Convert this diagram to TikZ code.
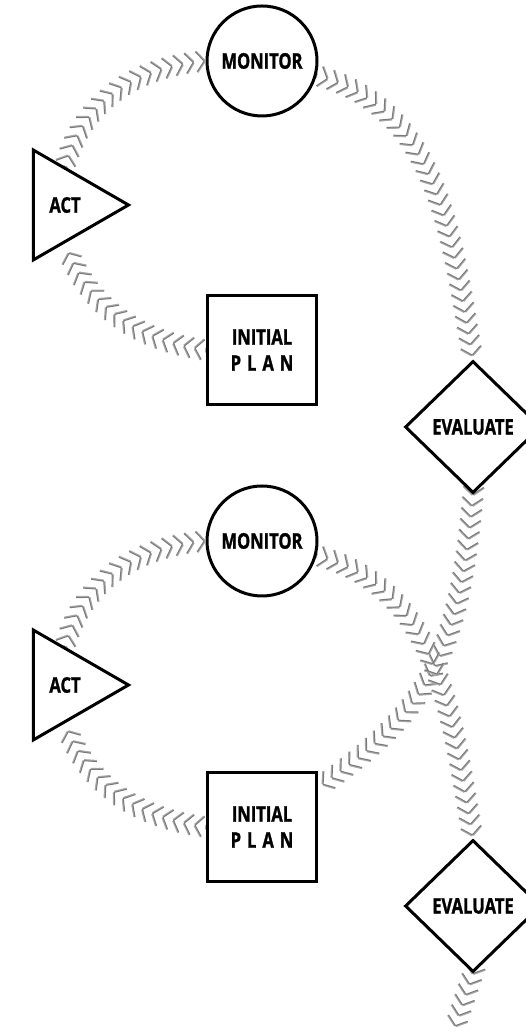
\documentclass[tikz,border=0pt]{standalone}
\usepackage{fontspec}
\newfontfamily\lblfont[FakeStretch=0.77,BoldFeatures={FakeBold=1.2}]{Open Sans}
\usetikzlibrary{shapes.geometric,decorations.markings,backgrounds}
\definecolor{chevgray}{HTML}{A8A8A8}
\definecolor{chevdark}{HTML}{7A7A7A}
\begin{document}
\begin{tikzpicture}[x=1pt,y=1pt,
  lbl/.style={font=\lblfont\bfseries\fontsize{21.5}{26}\selectfont, align=center,
    inner sep=0pt, fill=white, draw=black, line width=3pt},
  monitorbox/.style={lbl, circle, minimum size=110pt},
  actbox/.style={lbl, regular polygon, regular polygon sides=3,
    shape border rotate=-90, minimum size=127pt},
  planbox/.style={lbl, rectangle, minimum size=109pt},
  evalbox/.style={lbl, diamond, minimum width=136pt, minimum height=132pt},
  chev/.style={decorate, decoration={markings,
    mark=between positions 0 and 1 step 11pt with {
      \draw[chevgray, line width=1.6pt] (-7.4pt,10.6pt) -- (0.6pt,0.6pt) -- (0.6pt,0.6pt);
      \draw[chevgray, line width=1.6pt] (0.6pt,-0.6pt) -- (-7.4pt,-10.6pt);
      \draw[chevdark, line width=1pt] (-8pt,10pt) -- (0pt,0pt) -- (-8pt,-10pt);
    }}}
]
\useasboundingbox (0,0) rectangle (525,1032);

% upper loop
\node[monitorbox] (mon1)  at (262,971) {MONITOR};
\node[actbox]     (act1)  at (65,827)  {ACT};
\node[planbox]    (plan1) at (262,682) {INITIAL\\{\addfontfeature{LetterSpace=28}PLAN}};
\node[evalbox]    (eval1) at (473,605) {EVALUATE};

% lower loop
\node[monitorbox] (mon2)  at (262,491) {MONITOR};
\node[actbox]     (act2)  at (65,347)  {ACT};
\node[planbox]    (plan2) at (262,205) {INITIAL\\{\addfontfeature{LetterSpace=28}PLAN}};
\node[evalbox]    (eval2) at (473,126) {EVALUATE};

\coordinate (tail) at (452,-4);

\begin{pgfonlayer}{background}
  \path[chev] (plan1.west) to[out=172, in=-70] (act1.south);
  \path[chev] (act1.north) to[out=75, in=185] (mon1.west);
  \path[chev] (mon1.-15) to[out=-15, in=100] (eval1.north);
  \path[chev] (eval1.south) to[out=-95, in=35, out looseness=1.3] (plan2.35);

  \path[chev] (plan2.west) to[out=172, in=-70] (act2.south);
  \path[chev] (act2.north) to[out=75, in=185] (mon2.west);
  \path[chev] (mon2.-15) to[out=-15, in=100] (eval2.north);
  \path[chev] (eval2.south) -- (tail);
\end{pgfonlayer}
\end{tikzpicture}
\end{document}
